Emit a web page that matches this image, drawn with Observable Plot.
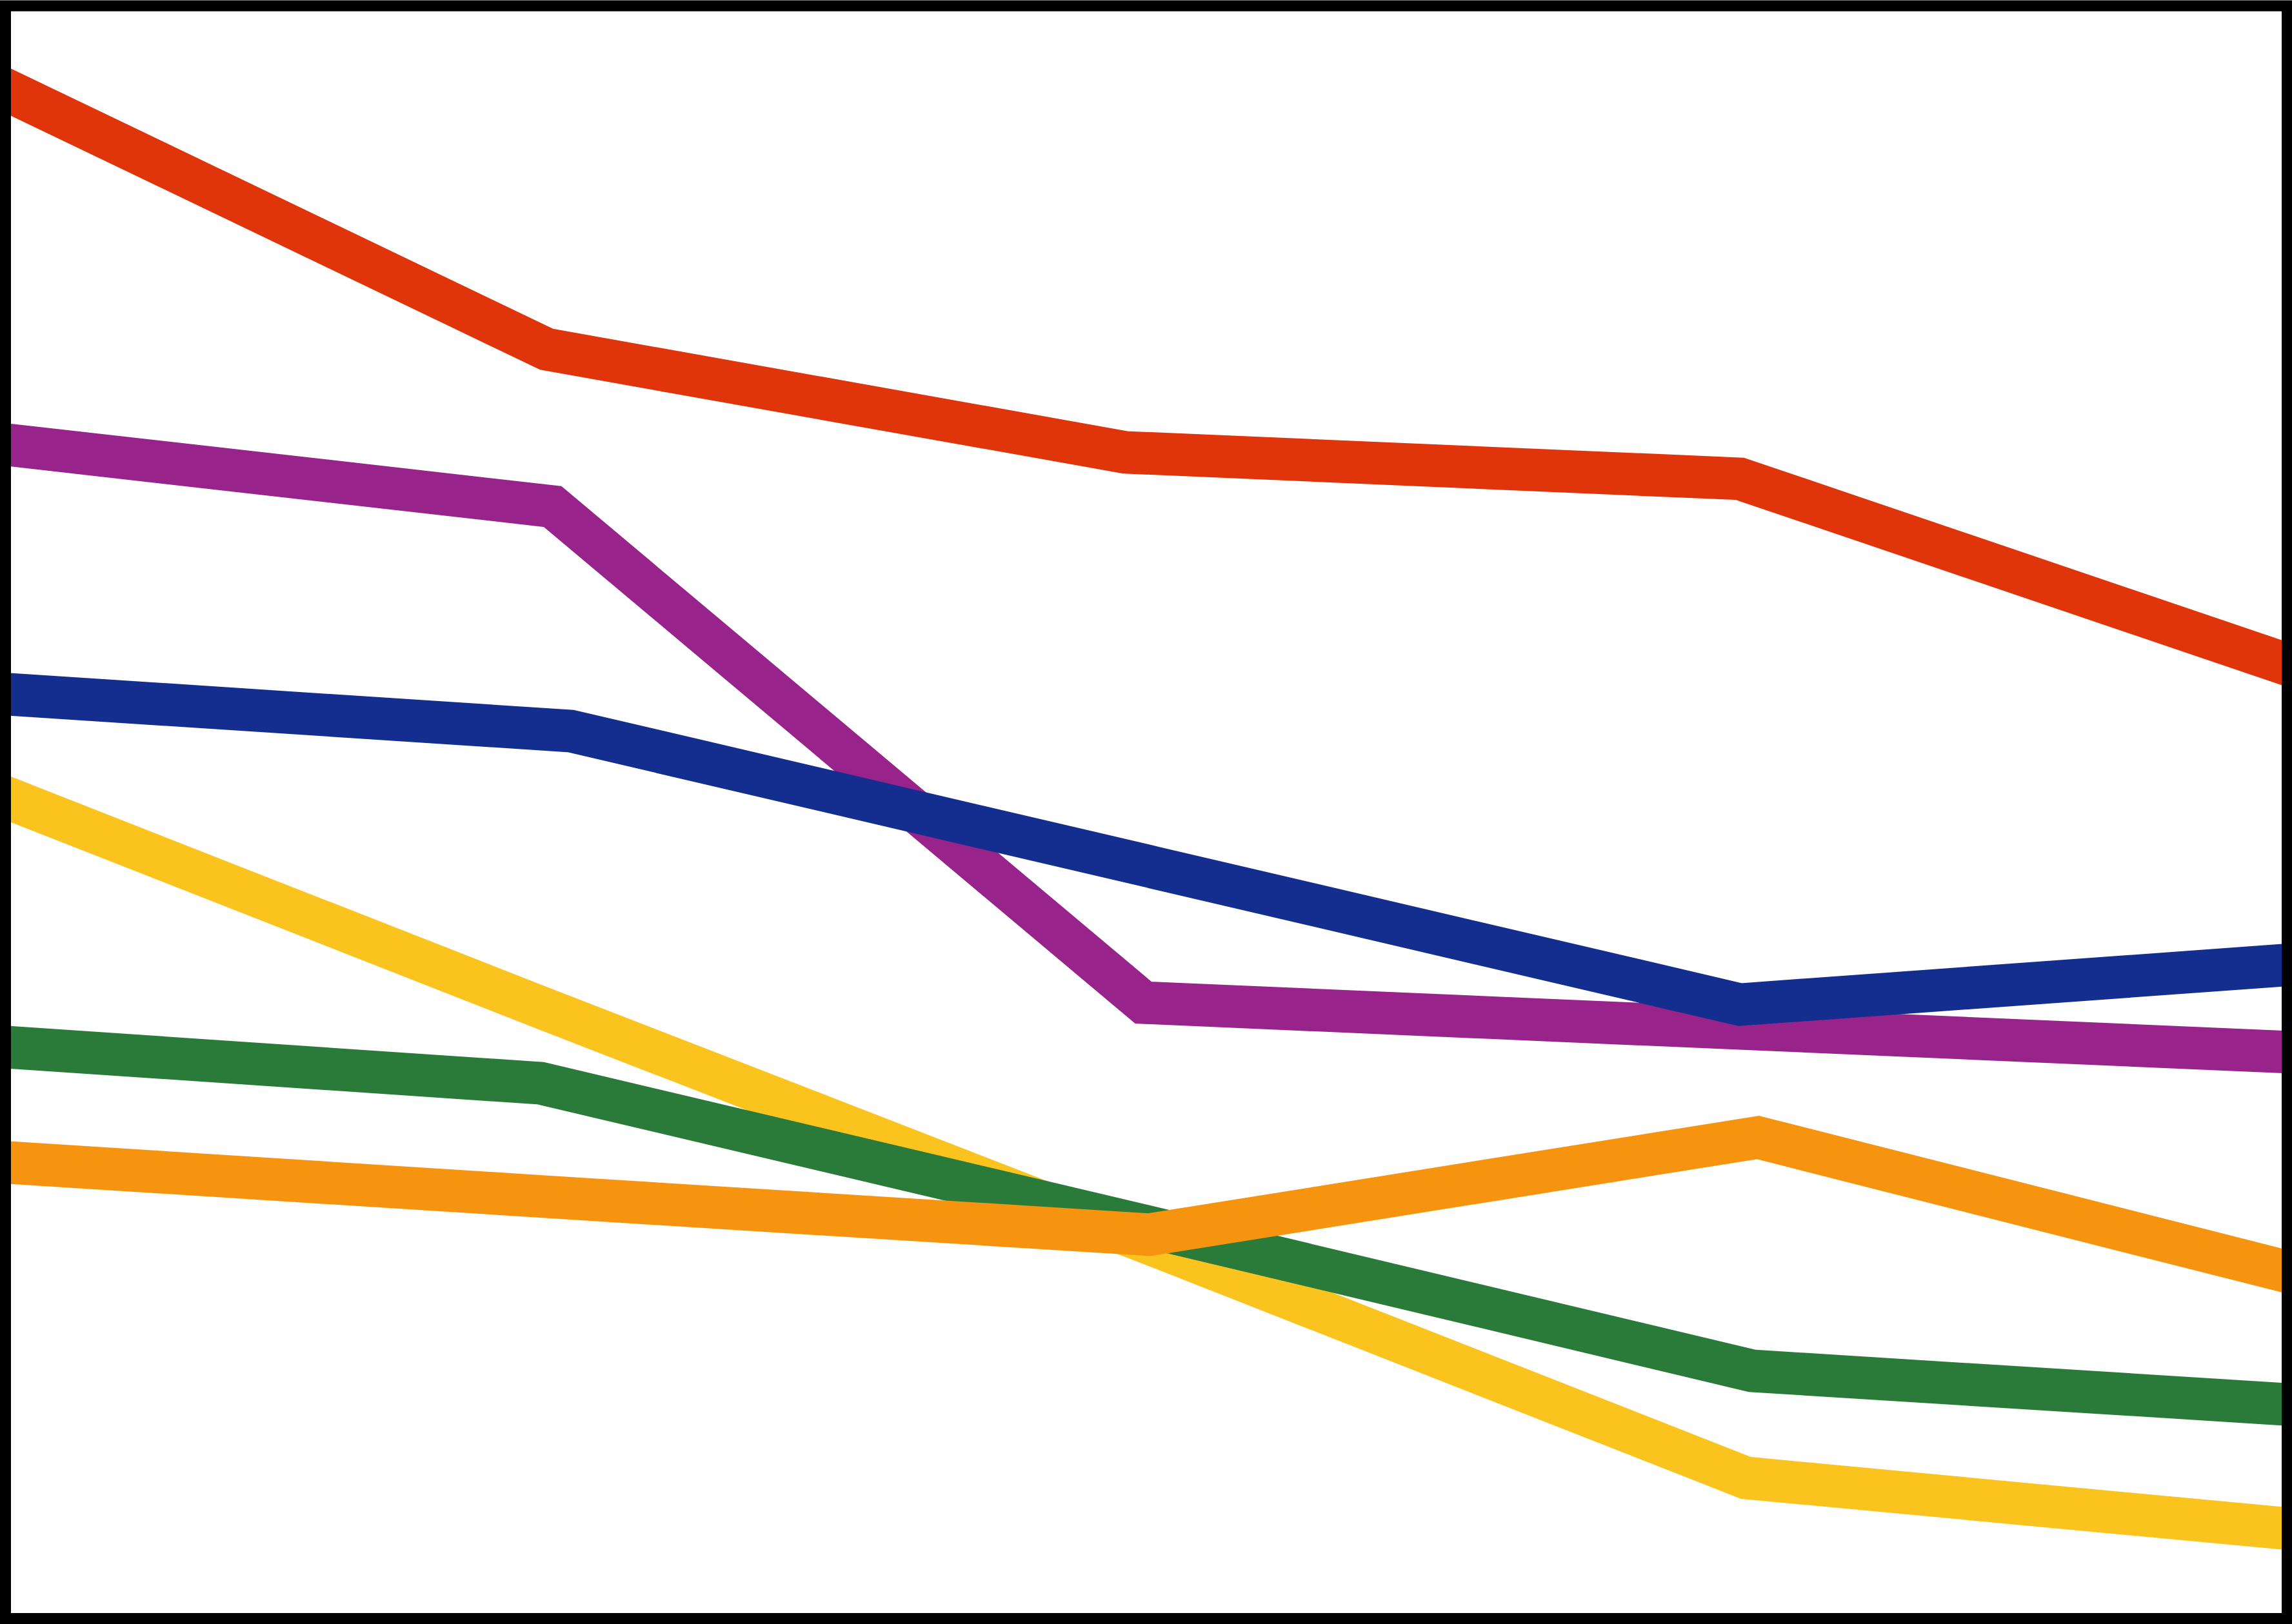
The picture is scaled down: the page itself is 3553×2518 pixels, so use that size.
<!DOCTYPE html>
<html>
<head>
<meta charset="utf-8">
<script src="https://cdn.jsdelivr.net/npm/d3@7"></script>
<script src="https://cdn.jsdelivr.net/npm/@observablehq/plot@0.6"></script>
<style>
  html, body { margin: 0; padding: 0; background: #fff; overflow: hidden; }
  #chart svg { display: block; }
</style>
</head>
<body>
<div id="chart"></div>
<script>
// Series names and colours (drawing order: first is at the back)
const seriesNames = ["Series F", "Series E", "Series B", "Series C", "Series D", "Series A"];
const seriesColors = ["#FAC31E", "#2A7A3A", "#97238B", "#132E8F", "#F7940F", "#E0350A"];

// x positions (per series) and values
const xF = [0, 1.00, 2.00, 3.01, 4];
const yF = [52.27, 37.75, 23.40, 8.72, 5.28];

const xE = [0, 0.99, 2.00, 3.02, 4];
const yE = [35.67, 33.19, 24.36, 15.36, 13.08];

const xB = [0, 1.01, 2.00, 3.00, 4];
const yB = [73.19, 68.95, 38.19, 36.59, 34.99];

const xC = [0, 1.04, 2.02, 3.00, 4];
const yC = [57.55, 55.03, 46.55, 38.07, 40.75];

const xD = [0, 1.00, 2.01, 3.03, 4];
const yD = [28.51, 26.15, 23.80, 29.83, 20.72];

const xA = [0, 1.00, 1.97, 3.00, 4];
const yA = [96.46, 78.70, 72.31, 70.67, 58.11];

const xs = [xF, xE, xB, xC, xD, xA];
const ys = [yF, yE, yB, yC, yD, yA];

const rows = [];
seriesNames.forEach((name, s) => {
  xs[s].forEach((x, i) => rows.push({series: name, x, y: ys[s][i]}));
});

const W = 3553, H = 2518;
const chart = Plot.plot({
  width: W,
  height: H,
  marginLeft: 8,
  marginRight: 8,
  marginTop: 8.5,
  marginBottom: 9,
  x: {domain: [0.093, 3.917], axis: null},
  y: {domain: [0, 100], axis: null},
  color: {type: "ordinal", domain: seriesNames, range: seriesColors},
  marks: [
    ...seriesNames.map(name => Plot.line(rows.filter(d => d.series === name), {
      x: "x", y: "y", stroke: "series",
      strokeWidth: 66,
      strokeLinejoin: "miter",
      strokeLinecap: "butt",
      strokeMiterlimit: 10,
      clip: true
    })),
    Plot.frame({stroke: "black", strokeWidth: 17})
  ]
});
document.getElementById("chart").appendChild(chart);
</script>
</body>
</html>
